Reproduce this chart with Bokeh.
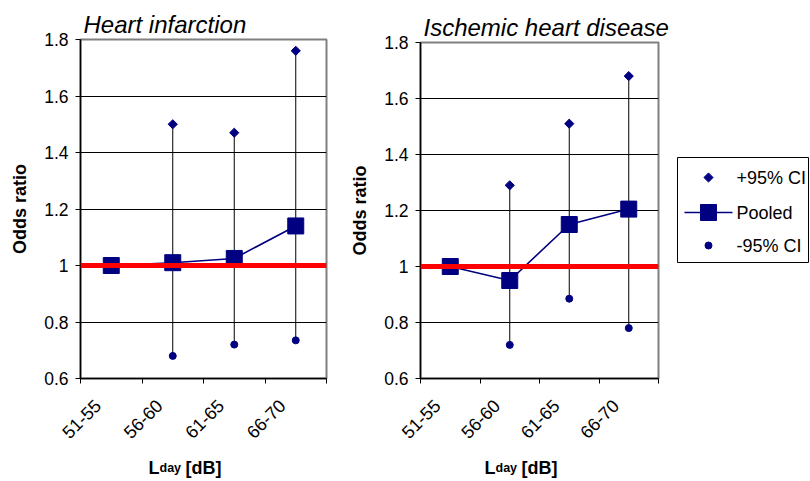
import math
from bokeh.plotting import figure
from bokeh.models import (FixedTicker, NumeralTickFormatter, Span, ColumnDataSource, Range1d)
from bokeh.core.properties import value
from bokeh.layouts import row, column
from bokeh.embed import file_html
from bokeh.resources import INLINE

categories = ["51-55", "56-60", "61-65", "66-70"]
y_ticks = [0.6, 0.8, 1.0, 1.2, 1.4, 1.6, 1.8]
reference_or = 1.0

# Heart infarction
hi_upper = [None, 1.50, 1.47, 1.76]
hi_pooled = [1.0, 1.01, 1.025, 1.14]
hi_lower = [None, 0.68, 0.72, 0.735]

# Ischemic heart disease
ihd_upper = [None, 1.29, 1.51, 1.68]
ihd_pooled = [1.0, 0.95, 1.15, 1.205]
ihd_lower = [None, 0.72, 0.885, 0.78]

titles = ["Heart infarction", "Ischemic heart disease"]
legend_labels = ["+95% CI", "Pooled", "-95% CI"]
x_title = ("L", "day", "[dB]")
y_title = "Odds ratio"

FONT = "Liberation Sans"
NAVY = "#000080"
TICK_FS = "17.5px"
MAIN_H = 451
STRIP_H = 30


def nan(v):
    return float("nan") if v is None else v


def blank_figure(width, height):
    f = figure(frame_width=width, frame_height=height,
               x_range=Range1d(0, width), y_range=Range1d(0, height),
               output_backend="svg", toolbar_location=None, tools="", title=None,
               min_border=0, min_border_left=0, min_border_right=0,
               min_border_top=0, min_border_bottom=0,
               x_axis_type=None, y_axis_type=None)
    f.grid.visible = False
    f.outline_line_color = None
    f.background_fill_color = "white"
    f.border_fill_color = "white"
    return f


def make_panel(title, upper, pooled, lower, width, bl, br, bt):
    p = figure(width=width, height=MAIN_H, x_range=(0, len(categories)),
               y_range=(y_ticks[0], y_ticks[-1]),
               output_backend="svg", toolbar_location=None, tools="",
               min_border_left=bl, min_border_right=br, min_border_top=bt,
               min_border_bottom=MAIN_H - 378)
    p.title.text = title
    p.title.text_font = FONT
    p.title.text_font_style = "italic"
    p.title.text_font_size = "24px"
    p.title.text_color = "black"
    p.title.align = "left"
    p.title.standoff = 4
    p.title.offset = 3

    xs = [i + 0.5 for i in range(len(categories))]
    src = ColumnDataSource(dict(x=xs, up=[nan(v) for v in upper], lo=[nan(v) for v in lower],
                                pooled=pooled))

    p.segment(x0="x", y0="lo", x1="x", y1="up", source=src, line_color="black", line_width=1)
    p.scatter("x", "up", source=src, marker="square", angle=math.pi / 4, size=6.5,
              fill_color=NAVY, line_color=NAVY)
    p.scatter("x", "lo", source=src, marker="circle", size=7, fill_color=NAVY, line_color=NAVY)
    p.line("x", "pooled", source=src, line_color=NAVY, line_width=1.6)
    p.scatter("x", "pooled", source=src, marker="square", size=16, fill_color=NAVY, line_color=NAVY)

    p.add_layout(Span(location=reference_or, dimension="width", line_color="#FF0000", line_width=5))

    # y axis
    p.yaxis.ticker = FixedTicker(ticks=y_ticks)
    p.yaxis.formatter = NumeralTickFormatter(format="0.[0]")
    p.yaxis.major_label_text_font = FONT
    p.yaxis.major_label_text_font_size = TICK_FS
    p.yaxis.major_label_text_color = "black"
    p.yaxis.major_label_standoff = 7
    p.yaxis.major_tick_out = 5
    p.yaxis.major_tick_in = 0
    p.yaxis.minor_tick_line_color = None
    p.yaxis.axis_line_color = "black"
    p.yaxis.axis_line_width = 1.5
    p.yaxis.major_tick_line_color = "black"
    p.yaxis.axis_label = y_title
    p.yaxis.axis_label_text_font = FONT
    p.yaxis.axis_label_text_font_style = "bold"
    p.yaxis.axis_label_text_font_size = "18px"
    p.yaxis.axis_label_text_color = "black"
    p.yaxis.axis_label_standoff = 11

    # x axis: tick marks on category boundaries, labels near category centres
    label_pos = [x - 0.22 for x in xs]
    p.xaxis.ticker = FixedTicker(ticks=label_pos, minor_ticks=list(range(len(categories) + 1)))
    p.xaxis.major_label_overrides = {x: c for x, c in zip(label_pos, categories)}
    p.xaxis.major_label_orientation = math.pi / 4
    p.xaxis.major_label_text_font = FONT
    p.xaxis.major_label_text_font_size = "18px"
    p.xaxis.major_label_text_color = "black"
    p.xaxis.major_label_standoff = 19
    p.xaxis.major_tick_line_color = None
    p.xaxis.major_tick_out = 0
    p.xaxis.minor_tick_out = 5
    p.xaxis.minor_tick_in = 0
    p.xaxis.minor_tick_line_color = "black"
    p.xaxis.axis_line_color = "black"
    p.xaxis.axis_line_width = 1.5

    p.xgrid.grid_line_color = None
    p.ygrid.ticker = FixedTicker(ticks=y_ticks[1:-1])
    p.ygrid.grid_line_color = "black"
    p.ygrid.grid_line_width = 1

    p.outline_line_color = "#808080"
    p.outline_line_width = 2
    p.background_fill_color = "white"
    p.border_fill_color = "white"
    return p


def make_xtitle(frame_w):
    # this strip's frame lines up with the panel frame above it
    s = blank_figure(frame_w, STRIP_H)
    x0 = frame_w / 2 - 55
    common = dict(y=[14], text_font=value(FONT), text_font_style="bold", text_color="black",
                  text_baseline="alphabetic", text_align="left")
    s.text(x=[x0], text=[x_title[0]], text_font_size="18px", **common)
    s.text(x=[x0 + 11], text=[x_title[1]], text_font_size="12.5px", **common)
    s.text(x=[x0 + 37], text=[x_title[2]], text_font_size="18px", **common)
    return s


def make_legend(width, height):
    g = blank_figure(width, height)
    top = height - 157
    g.quad(left=[2], right=[width - 2], bottom=[height - 262], top=[top],
           fill_color="white", line_color="black", line_width=1)
    gx = 33
    ys = [top - 20, top - 55, top - 88]
    g.scatter(x=[gx], y=[ys[0]], marker="square", angle=math.pi / 4, size=6.5,
              fill_color=NAVY, line_color=NAVY)
    g.line(x=[gx - 24, gx + 24], y=[ys[1], ys[1]], line_color=NAVY, line_width=1.6)
    g.scatter(x=[gx], y=[ys[1]], marker="square", size=16, fill_color=NAVY, line_color=NAVY)
    g.scatter(x=[gx], y=[ys[2]], marker="circle", size=7, fill_color=NAVY, line_color=NAVY)
    g.text(x=[gx + 28] * len(legend_labels), y=ys, text=legend_labels,
           text_font=value(FONT), text_font_size="18px", text_color="black",
           text_baseline="middle", text_align="left")
    return g


W1, W2, W3 = 345, 330, 135
F1, F2 = 246, 238
p1 = make_panel(titles[0], hi_upper, hi_pooled, hi_lower, width=W1, bl=80, br=W1 - 80 - F1, bt=39)
p2 = make_panel(titles[1], ihd_upper, ihd_pooled, ihd_lower, width=W2, bl=75, br=W2 - 75 - F2, bt=42)
t1 = make_xtitle(F1)
t2 = make_xtitle(F2)
leg = make_legend(W3, MAIN_H + STRIP_H)

layout = row(column(p1, t1, spacing=0), column(p2, t2, spacing=0), leg, spacing=0)
open("out.html", "w").write(file_html(layout, INLINE))
